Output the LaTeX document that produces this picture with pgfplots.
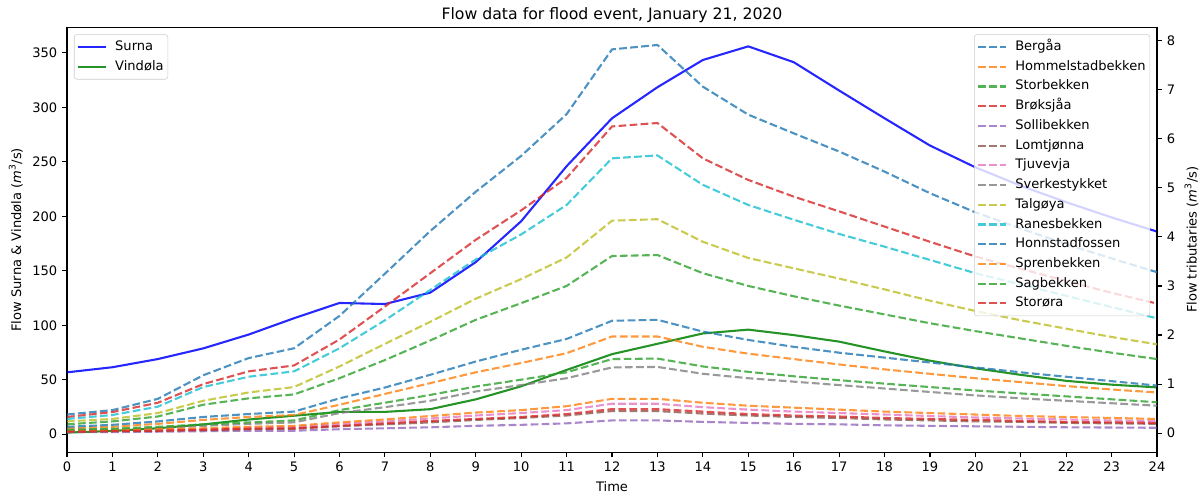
\documentclass[border=0pt]{standalone}
\usepackage{fontspec}
\setmainfont{DejaVu Sans}
\usepackage{pgfplots}
\usepackage{pgfplotstable}
\pgfplotsset{compat=1.18}

\definecolor{tabblue}{RGB}{31,119,180}
\definecolor{taborange}{RGB}{255,127,14}
\definecolor{tabgreen}{RGB}{44,160,44}
\definecolor{tabred}{RGB}{214,39,40}
\definecolor{tabpurple}{RGB}{148,103,189}
\definecolor{tabbrown}{RGB}{140,86,75}
\definecolor{tabpink}{RGB}{227,119,194}
\definecolor{tabgray}{RGB}{127,127,127}
\definecolor{tabolive}{RGB}{188,189,34}
\definecolor{tabcyan}{RGB}{23,190,207}
\definecolor{mplblue}{RGB}{0,0,255}
\definecolor{mplgreen}{RGB}{0,128,0}
\definecolor{legframe}{RGB}{204,204,204}

\pgfplotstableread{
t Surna Vindola Berg Hommel Storb Broks Solli Lomt Tjuv Sverk Talg Ranes Honn Spren Sagb Stora
0  56.8  1.5  0.38 0.10 0.18 0.33 0.02 0.03 0.04 0.05 0.24 0.29 0.13 0.05 0.07 0.03
1  61.5  3.0  0.47 0.13 0.24 0.43 0.02 0.04 0.05 0.07 0.29 0.37 0.17 0.06 0.09 0.04
2  69.0  5.5  0.70 0.19 0.34 0.62 0.03 0.05 0.07 0.10 0.41 0.54 0.24 0.08 0.13 0.05
3  78.8  9.0  1.18 0.27 0.58 1.00 0.04 0.06 0.08 0.15 0.66 0.94 0.33 0.10 0.18 0.07
4  91.5 13.5  1.53 0.33 0.71 1.26 0.05 0.08 0.11 0.19 0.83 1.15 0.39 0.13 0.22 0.09
5 106.5 17.0  1.73 0.37 0.79 1.38 0.05 0.09 0.13 0.22 0.94 1.26 0.44 0.15 0.26 0.10
6 120.5 20.5  2.39 0.58 1.12 1.91 0.08 0.14 0.19 0.41 1.36 1.73 0.71 0.22 0.47 0.15
7 119.5 20.5  3.25 0.80 1.49 2.58 0.10 0.18 0.24 0.53 1.82 2.30 0.93 0.28 0.62 0.20
8 130.0 23.0  4.12 1.02 1.89 3.26 0.12 0.22 0.30 0.66 2.27 2.92 1.19 0.35 0.78 0.25
9 158.0 32.0  4.92 1.24 2.31 3.94 0.15 0.27 0.36 0.85 2.74 3.54 1.46 0.42 0.95 0.29
10 195.5 44.0 5.65 1.43 2.65 4.54 0.17 0.31 0.41 0.98 3.14 4.05 1.70 0.47 1.09 0.33
11 246.0 59.0 6.50 1.63 3.00 5.20 0.20 0.36 0.47 1.12 3.58 4.65 1.92 0.55 1.24 0.39
12 290.0 73.5 7.82 1.97 3.61 6.25 0.26 0.45 0.60 1.34 4.33 5.60 2.29 0.70 1.51 0.49
13 318.5 83.0 7.91 1.97 3.63 6.32 0.26 0.45 0.60 1.35 4.36 5.66 2.31 0.70 1.52 0.49
14 343.5 92.5 7.06 1.76 3.26 5.60 0.23 0.40 0.53 1.21 3.90 5.06 2.07 0.62 1.36 0.44
15 356.0 96.0 6.49 1.62 3.00 5.16 0.21 0.36 0.48 1.12 3.57 4.65 1.90 0.56 1.25 0.39
16 341.5 91.0 6.11 1.51 2.79 4.82 0.19 0.33 0.44 1.05 3.36 4.35 1.76 0.52 1.16 0.36
17 315.5 85.0 5.74 1.40 2.60 4.52 0.18 0.31 0.41 0.98 3.15 4.06 1.64 0.48 1.08 0.34
18 290.0 76.0 5.33 1.30 2.42 4.21 0.16 0.28 0.38 0.91 2.93 3.80 1.54 0.44 1.01 0.31
19 265.0 67.5 4.89 1.21 2.24 3.90 0.15 0.26 0.35 0.84 2.70 3.53 1.44 0.41 0.94 0.29
20 245.0 60.5 4.50 1.12 2.08 3.60 0.14 0.24 0.32 0.77 2.49 3.26 1.34 0.38 0.87 0.27
21 228.0 54.5 4.17 1.04 1.93 3.35 0.13 0.23 0.30 0.71 2.30 3.03 1.24 0.35 0.81 0.25
22 213.0 49.0 3.85 0.96 1.78 3.10 0.12 0.21 0.28 0.66 2.13 2.80 1.15 0.33 0.75 0.23
23 199.0 45.5 3.56 0.89 1.64 2.86 0.115 0.20 0.26 0.61 1.96 2.57 1.06 0.31 0.69 0.22
24 186.0 43.0 3.28 0.83 1.51 2.64 0.11 0.19 0.25 0.56 1.81 2.34 0.97 0.29 0.63 0.21
}\flowdata

\pgfplotsset{
  mplbase/.style={
    scale only axis, width=784.8pt, height=306pt,
    xmin=0, xmax=24,
    tick align=outside, major tick length=3.5pt,
    every tick/.style={black, line width=0.8pt},
    axis line style={line width=0.8pt},
    ticklabel style={font=\fontsize{9.4}{11}\selectfont},
    label style={font=\fontsize{9.4}{11}\selectfont},
    /pgf/number format/assume math mode=true,
    legend image code/.code={\draw[#1] (0pt,0pt) -- (20pt,0pt);},
    legend cell align=left,
  },
  mpllegend/.style={
    draw=legframe, fill=white, fill opacity=0.8, text opacity=1, draw opacity=1,
    rounded corners=2pt, font=\fontsize{9.4}{11}\selectfont,
    inner xsep=2pt, inner ysep=3pt, row sep=2.2pt, column sep=5pt,
    nodes={inner sep=1pt, text height=7.5pt, text depth=2.5pt},
  },
  dashline/.style={line width=1.5pt, dash pattern=on 5.55pt off 2.4pt, opacity=0.8},
  every axis title/.style={at={(0.5,1)}, anchor=base, inner sep=0pt, yshift=5.5pt,
    font=\fontsize{11.3}{13}\selectfont},
}

\begin{document}
\begin{tikzpicture}
\begin{axis}[
  mplbase, name=ax1,
  ymin=-16.6, ymax=373.5,
  xtick={0,1,...,24}, ytick={0,50,...,350},
  tick pos=left,
  title={Flow data for flood event, January 21, 2020},
  xlabel={Time},
  ylabel={Flow Surna \& Vindøla (\textit{m}\textsuperscript{3}/s)},
  legend style={mpllegend, at={(rel axis cs:0,1)}, anchor=north west, xshift=5pt, yshift=-5pt},
]
\addplot[mplblue, line width=1.5pt, opacity=0.85] table[x=t, y=Surna]{\flowdata};
\addlegendentry{Surna}
\addplot[mplgreen, line width=1.5pt, opacity=0.85] table[x=t, y=Vindola]{\flowdata};
\addlegendentry{Vindøla}
\end{axis}

\begin{axis}[
  mplbase,
  ymin=-0.39, ymax=8.27,
  axis x line=none, axis y line*=right,
  ytick={0,1,...,8},
  ylabel={Flow tributaries (\textit{m}\textsuperscript{3}/s)},
  legend style={mpllegend, at={(rel axis cs:1,1)}, anchor=north east, xshift=-5pt, yshift=-5pt},
]
\addplot[tabblue, dashline] table[x=t, y=Berg]{\flowdata};
\addlegendentry{Bergåa}
\addplot[taborange, dashline] table[x=t, y=Hommel]{\flowdata};
\addlegendentry{Hommelstadbekken}
\addplot[tabgreen, dashline] table[x=t, y=Storb]{\flowdata};
\addlegendentry{Storbekken}
\addplot[tabred, dashline] table[x=t, y=Broks]{\flowdata};
\addlegendentry{Brøksjåa}
\addplot[tabpurple, dashline] table[x=t, y=Solli]{\flowdata};
\addlegendentry{Sollibekken}
\addplot[tabbrown, dashline] table[x=t, y=Lomt]{\flowdata};
\addlegendentry{Lomtjønna}
\addplot[tabpink, dashline] table[x=t, y=Tjuv]{\flowdata};
\addlegendentry{Tjuvevja}
\addplot[tabgray, dashline] table[x=t, y=Sverk]{\flowdata};
\addlegendentry{Sverkestykket}
\addplot[tabolive, dashline] table[x=t, y=Talg]{\flowdata};
\addlegendentry{Talgøya}
\addplot[tabcyan, dashline] table[x=t, y=Ranes]{\flowdata};
\addlegendentry{Ranesbekken}
\addplot[tabblue, dashline] table[x=t, y=Honn]{\flowdata};
\addlegendentry{Honnstadfossen}
\addplot[taborange, dashline] table[x=t, y=Spren]{\flowdata};
\addlegendentry{Sprenbekken}
\addplot[tabgreen, dashline] table[x=t, y=Sagb]{\flowdata};
\addlegendentry{Sagbekken}
\addplot[tabred, dashline] table[x=t, y=Stora]{\flowdata};
\addlegendentry{Storøra}
\end{axis}
\pgfresetboundingbox
\path[use as bounding box] (ax1.south west) ++(-48.24pt,-30.74pt) rectangle ++(864.7pt,356.4pt);
\end{tikzpicture}
\end{document}
